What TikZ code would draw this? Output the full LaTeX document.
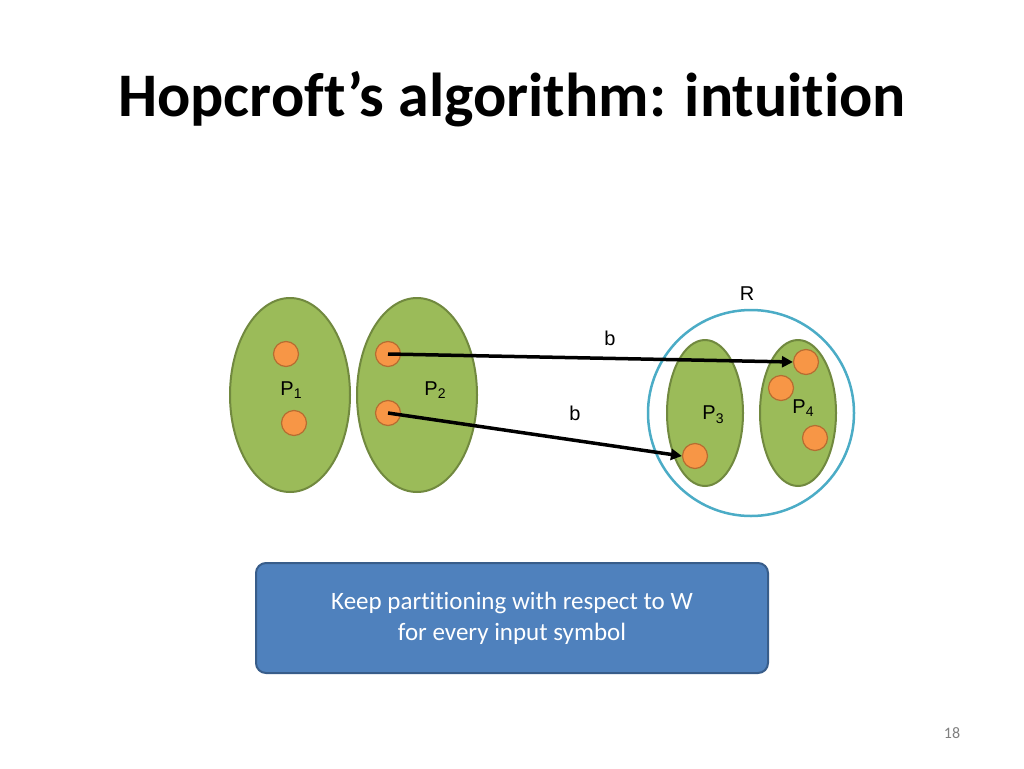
\documentclass[tikz,border=0pt]{standalone}
\usepackage{fontspec}
\setmainfont{Liberation Sans}
\newfontfamily\calfont[Ligatures=NoCommon]{Carlito}
\usetikzlibrary{arrows.meta,shapes.geometric}
\definecolor{gfill}{HTML}{9BBB59}
\definecolor{gline}{HTML}{71893F}
\definecolor{ofill}{HTML}{F79646}
\definecolor{oline}{HTML}{B66D31}
\definecolor{bfill}{HTML}{4F81BD}
\definecolor{bline}{HTML}{385D8A}
\definecolor{cline}{HTML}{4BACC6}
\newcommand{\lowsub}[1]{\raisebox{-0.35ex}{\fontsize{14}{14}\selectfont #1}}
\begin{document}
\begin{tikzpicture}[x=1pt,y=-1pt,
  part/.style={ellipse,draw=gline,fill=gfill,line width=2pt},
  dot/.style={circle,draw=oline,fill=ofill,line width=1.2pt,minimum size=25pt,inner sep=0pt},
  lbl/.style={font=\fontsize{20}{20}\selectfont},
  arr/.style={line width=3.5pt,-{Triangle[length=11pt,width=11pt]}}]
\useasboundingbox (0,0) rectangle (1024,768);
\fill[white] (0,0) rectangle (1024,768);
\node[anchor=base west,inner sep=0pt,font=\calfont\bfseries\fontsize{62}{62}\selectfont] (title) at (118,116) {Hopcroft’s algorithm: intuition};
\draw[cline,line width=2.5pt] (751,413) circle[radius=103];
\node[part,minimum width=120pt,minimum height=194pt] (p1) at (290,395) {};
\node[part,minimum width=120pt,minimum height=194pt] (p2) at (417,395) {};
\node[part,minimum width=76pt,minimum height=146pt] (p3) at (705,413) {};
\node[part,minimum width=76pt,minimum height=146pt] (p4) at (798,413) {};
\node[dot] (a1) at (286,354) {};
\node[dot] (a2) at (294,423) {};
\node[dot] (b1) at (388,354) {};
\node[dot] (b2) at (388,413) {};
\node[dot] (d1) at (806,362) {};
\node[dot] (d2) at (781,388) {};
\node[dot] (d3) at (815,438) {};
\node[dot] (c1) at (695,456) {};
\draw[arr] (b1.center) -- (d1.west);
\draw[arr] (b2.center) -- (c1.west);
\node[lbl] (r) at (747,294) {R};
\node[lbl] (lb1) at (610,338) {b};
\node[lbl] (lb2) at (575,413) {b};
\node[lbl] (l1) at (291,390) {P\lowsub{1}};
\node[lbl] (l2) at (435,390) {P\lowsub{2}};
\node[lbl] (l3) at (713,415) {P\lowsub{3}};
\node[lbl] (l4) at (803,408) {P\lowsub{4}};
\node[draw=bline,fill=bfill,line width=2pt,rounded corners=10pt,minimum width=512pt,minimum height=110pt,
  text=white,align=center,font=\calfont\fontsize{25}{31}\selectfont] (box) at (512,618)
  {Keep partitioning with respect to W\\for every input symbol};
\node[text=gray,font=\calfont\fontsize{16}{16}\selectfont] (pg) at (952,733) {18};
\end{tikzpicture}
\end{document}
